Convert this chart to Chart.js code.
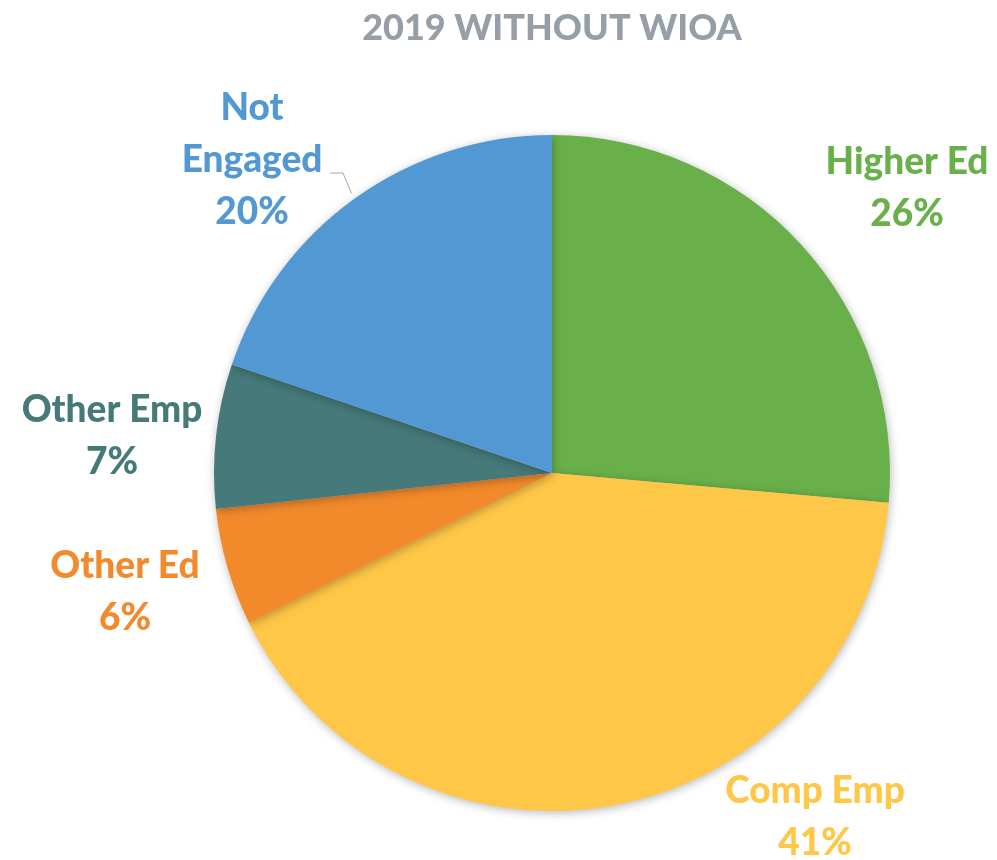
<!DOCTYPE html>
<html>
<head>
<meta charset="utf-8">
<script src="https://cdn.jsdelivr.net/npm/chart.js@4"></script>
<style>
  html, body { margin: 0; padding: 0; background: #fff; }
  #wrap { width: 997px; height: 860px; position: relative; }
</style>
</head>
<body>
<div id="wrap"><canvas id="pieChart"></canvas></div>
<script>
// Data
const chartTitle = '2019 WITHOUT WIOA';
const categories = ['Higher Ed', 'Comp Emp', 'Other Ed', 'Other Emp', 'Not Engaged'];
const shares = [26.4, 41.3, 5.6, 6.9, 19.8];
const sliceColors = ['#6AB04A', '#FFC748', '#F28A2B', '#467979', '#5299D3'];

// label text lines and their offsets (px) from the pie centre
const labelLines = [['Higher Ed'], ['Comp Emp'], ['Other Ed'], ['Other Emp'], ['Not', 'Engaged']];
const labelOffsets = [[355, -285], [263, 344], [-427, 119], [-440, -37], [-300, -313]];

const FONT = 'Lato, "Open Sans", sans-serif';

// soft shadow round the pie
const pieShadow = {
    id: 'pieShadow',
    beforeDatasetsDraw(chart) {
        const ctx = chart.ctx;
        ctx.save();
        ctx.shadowColor = 'rgba(0,0,0,0.28)';
        ctx.shadowBlur = 10;
        ctx.shadowOffsetX = 1;
        ctx.shadowOffsetY = 2;
    },
    afterDatasetsDraw(chart) {
        chart.ctx.restore();
    }
};

// title + data labels
const pieLabels = {
    id: 'pieLabels',
    afterDraw(chart) {
        const ctx = chart.ctx;
        const arcs = chart.getDatasetMeta(0).data;
        const cx = arcs[0].x, cy = arcs[0].y;

        ctx.save();
        ctx.textAlign = 'center';
        ctx.textBaseline = 'middle';

        ctx.fillStyle = '#969FA7';
        ctx.font = '900 36px ' + FONT;
        ctx.fillText(chartTitle, cx, 28);

        ctx.font = '900 37px ' + FONT;
        const lineH = 52;
        labelLines.forEach((lines, i) => {
            const all = lines.concat([Math.round(shares[i]) + '%']);
            const x = cx + labelOffsets[i][0];
            const y0 = cy + labelOffsets[i][1] - (all.length - 1) * lineH / 2;
            ctx.fillStyle = sliceColors[i];
            all.forEach((t, j) => ctx.fillText(t, x, y0 + j * lineH));
        });

        // leader line for Not Engaged
        const a = arcs[4];
        const mid = (a.startAngle + a.endAngle) / 2;
        const ex = cx + Math.cos(mid) * (a.outerRadius + 6);
        const ey = cy + Math.sin(mid) * (a.outerRadius + 6);
        ctx.strokeStyle = '#A6A6A6';
        ctx.lineWidth = 1;
        ctx.beginPath();
        ctx.moveTo(cx - 222, cy - 300);
        ctx.lineTo(cx - 209, cy - 300);
        ctx.lineTo(ex, ey);
        ctx.stroke();
        ctx.restore();
    }
};

const ctx = document.getElementById('pieChart').getContext('2d');
const pieChart = new Chart(ctx, {
    type: 'pie',
    data: {
        labels: categories,
        datasets: [{
            data: shares,
            backgroundColor: sliceColors,
            borderWidth: 0
        }]
    },
    options: {
        responsive: true,
        maintainAspectRatio: false,
        animation: false,
        layout: { padding: { left: 214, right: 107, top: 135, bottom: 49 } },
        plugins: {
            legend: { display: false },
            title: { display: false },
            tooltip: { enabled: false }
        }
    },
    plugins: [pieShadow, pieLabels]
});
</script>
</body>
</html>
